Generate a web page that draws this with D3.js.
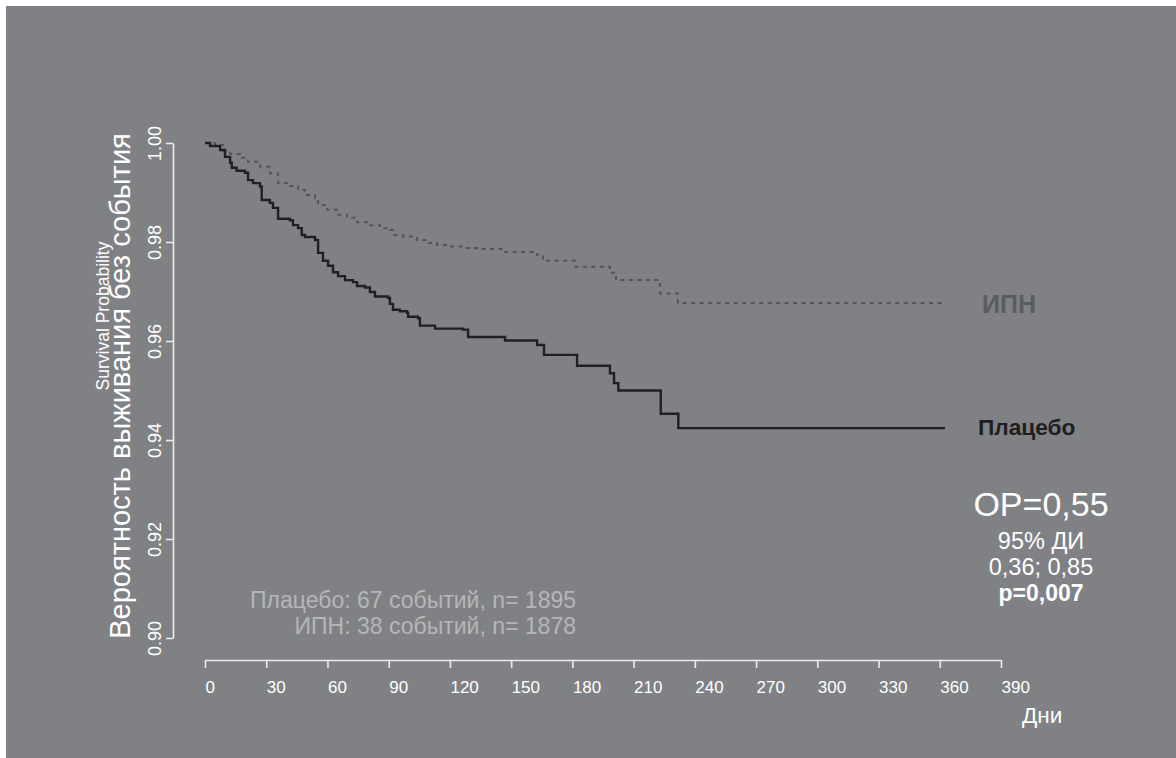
<!DOCTYPE html>
<html>
<head>
<meta charset="utf-8">
<script src="https://cdn.jsdelivr.net/npm/d3@7"></script>
<style>
  html, body { margin: 0; padding: 0; background: #ffffff; }
  svg { display: block; font-family: "Liberation Sans", Arial, Helvetica, sans-serif; }
</style>
</head>
<body>
<svg id="chart" width="1176" height="758"></svg>
<script>
// Kaplan–Meier step curves: day of each step and survival after it
const placeboDays = [0, 2.5, 7.4, 9.8, 12.3, 13.1, 15.5, 19.6, 21.1, 23.5, 26.9, 27.8, 31.8, 33.3, 35.8,
  41.6, 43.1, 45.6, 47.4, 49.0, 53.9, 55.4, 57.8, 60.3, 62.7, 65.2, 68.6, 72.5, 74.5, 78.4, 80.8,
  83.3, 89.7, 90.6, 92.1, 95.5, 99.0, 99.5, 104.4, 105.3, 112.7, 126.4, 128.9, 147.0, 162.7, 166.1,
  182.3, 198.4, 200.4, 202.5, 223.3, 231.9, 362.6];
const placeboSurv = [1.0000, 0.9994, 0.9986, 0.9972, 0.9960, 0.9950, 0.9944, 0.9940, 0.9925, 0.9919, 0.9912,
  0.9885, 0.9879, 0.9869, 0.9847, 0.9844, 0.9834, 0.9828, 0.9814, 0.9810, 0.9804, 0.9778, 0.9762,
  0.9752, 0.9739, 0.9731, 0.9723, 0.9719, 0.9711, 0.9708, 0.9699, 0.9690, 0.9687, 0.9675, 0.9663,
  0.9660, 0.9657, 0.9649, 0.9646, 0.9631, 0.9625, 0.9623, 0.9608, 0.9601, 0.9592, 0.9572, 0.9550,
  0.9535, 0.9515, 0.9500, 0.9453, 0.9424, 0.9424];

const ipnDays = [0, 4.9, 8.8, 12.3, 17.2, 21.1, 26.9, 31.9, 35.8, 41.6, 45.6, 49.0, 53.9, 55.4, 59.8,
  64.7, 69.6, 74.5, 79.4, 85.7, 90.6, 92.1, 97.0, 103.9, 108.8, 113.7, 120.0, 126.4, 133.3, 146.0,
  147.0, 162.7, 165.6, 181.3, 198.4, 201.4, 222.9, 231.7, 362.6];
const ipnSurv = [1.0000, 0.9996, 0.9984, 0.9978, 0.9970, 0.9962, 0.9952, 0.9939, 0.9919, 0.9913, 0.9905,
  0.9895, 0.9889, 0.9875, 0.9865, 0.9855, 0.9849, 0.9840, 0.9834, 0.9828, 0.9824, 0.9814, 0.9811,
  0.9804, 0.9798, 0.9794, 0.9791, 0.9788, 0.9786, 0.9784, 0.9780, 0.9774, 0.9762, 0.9750, 0.9738,
  0.9723, 0.9696, 0.9677, 0.9677];

const xTicks = [0, 30, 60, 90, 120, 150, 180, 210, 240, 270, 300, 330, 360, 390];
const yTicks = [0.90, 0.92, 0.94, 0.96, 0.98, 1.00];

const groupLabels = ["ИПН", "Плацебо"];
const eventLines = ["Плацебо: 67 событий, n= 1895", "ИПН: 38 событий, n= 1878"];
const hrLines = ["ОР=0,55", "95% ДИ", "0,36; 0,85", "p=0,007"];

const svg = d3.select("#chart");

// panel background
svg.append("rect")
  .attr("x", 6).attr("y", 6)
  .attr("width", 1170).attr("height", 752)
  .attr("fill", "#808185");

const x = d3.scaleLinear().domain([0, 390]).range([205, 1001]);
const y = d3.scaleLinear().domain([0.90, 1.00]).range([638, 143]);

const axisColor = "#ececec";

// x axis
const gx = svg.append("g")
  .attr("transform", "translate(0,660)")
  .call(d3.axisBottom(x).tickValues(xTicks).tickSize(8).tickSizeOuter(0).tickFormat(d3.format("d")));
gx.select(".domain").attr("stroke", axisColor).attr("stroke-width", 1.6);
gx.selectAll(".tick line").attr("stroke", axisColor).attr("stroke-width", 1.6);
gx.selectAll(".tick text")
  .attr("fill", "#ffffff")
  .attr("font-size", 17)
  .attr("font-family", "Liberation Sans, Arial, sans-serif")
  .attr("text-anchor", "start")
  .attr("x", 0)
  .attr("y", 33)
  .attr("dy", 0);

// y axis
const gy = svg.append("g")
  .attr("transform", "translate(173,0)")
  .call(d3.axisLeft(y).tickValues(yTicks).tickSize(7).tickSizeOuter(0).tickFormat(d3.format(".2f")));
gy.select(".domain").attr("stroke", axisColor).attr("stroke-width", 1.6);
gy.selectAll(".tick line").attr("stroke", axisColor).attr("stroke-width", 1.6);
gy.selectAll(".tick text")
  .attr("fill", "#ffffff")
  .attr("font-size", 18)
  .attr("font-family", "Liberation Sans, Arial, sans-serif")
  .attr("text-anchor", "middle")
  .attr("x", 0).attr("y", 0).attr("dy", 0)
  .attr("transform", "translate(-12,0) rotate(-90)");

// survival curves
const line = d3.line()
  .x(d => x(d[0]))
  .y(d => y(d[1]))
  .curve(d3.curveStepAfter);

const placebo = d3.zip(placeboDays, placeboSurv);
const ipn = d3.zip(ipnDays, ipnSurv);

svg.append("path")
  .datum(ipn)
  .attr("d", line)
  .attr("fill", "none")
  .attr("stroke", "#55565a")
  .attr("stroke-width", 2)
  .attr("stroke-dasharray", "4,4.5");

svg.append("path")
  .datum(placebo)
  .attr("d", line)
  .attr("fill", "none")
  .attr("stroke", "#231f20")
  .attr("stroke-width", 2.4);

// curve labels
svg.append("text")
  .attr("x", 982).attr("y", 313)
  .attr("font-size", 25).attr("font-weight", "bold")
  .attr("fill", "#5b5c60")
  .text(groupLabels[0]);
svg.append("text")
  .attr("x", 978).attr("y", 435)
  .attr("font-size", 22.7).attr("font-weight", "bold")
  .attr("fill", "#1f1d1e")
  .text(groupLabels[1]);

// axis titles
svg.append("text")
  .attr("transform", "translate(130,386) rotate(-90)")
  .attr("text-anchor", "middle")
  .attr("font-size", 29)
  .attr("fill", "#ffffff")
  .text("Вероятность выживания без события");
svg.append("text")
  .attr("transform", "translate(109,316) rotate(-90)")
  .attr("text-anchor", "middle")
  .attr("font-size", 17.5)
  .attr("fill", "#ffffff")
  .text("Survival Probability");
svg.append("text")
  .attr("x", 1022).attr("y", 723)
  .attr("font-size", 22.5)
  .attr("fill", "#ffffff")
  .text("Дни");

// event counts
svg.selectAll("text.events")
  .data(eventLines)
  .join("text")
  .attr("class", "events")
  .attr("x", 576)
  .attr("y", (d, i) => 608 + i * 26)
  .attr("text-anchor", "end")
  .attr("font-size", 23)
  .attr("fill", "#b6b6b8")
  .text(d => d);

// hazard ratio block
const hrY = [516, 549, 575, 601];
const hrSize = [34, 23.5, 23.5, 23];
svg.selectAll("text.hr")
  .data(hrLines)
  .join("text")
  .attr("class", "hr")
  .attr("x", 1041)
  .attr("y", (d, i) => hrY[i])
  .attr("text-anchor", "middle")
  .attr("font-size", (d, i) => hrSize[i])
  .attr("font-weight", (d, i) => i === 3 ? "bold" : "normal")
  .attr("fill", "#ffffff")
  .text(d => d);
</script>
</body>
</html>
